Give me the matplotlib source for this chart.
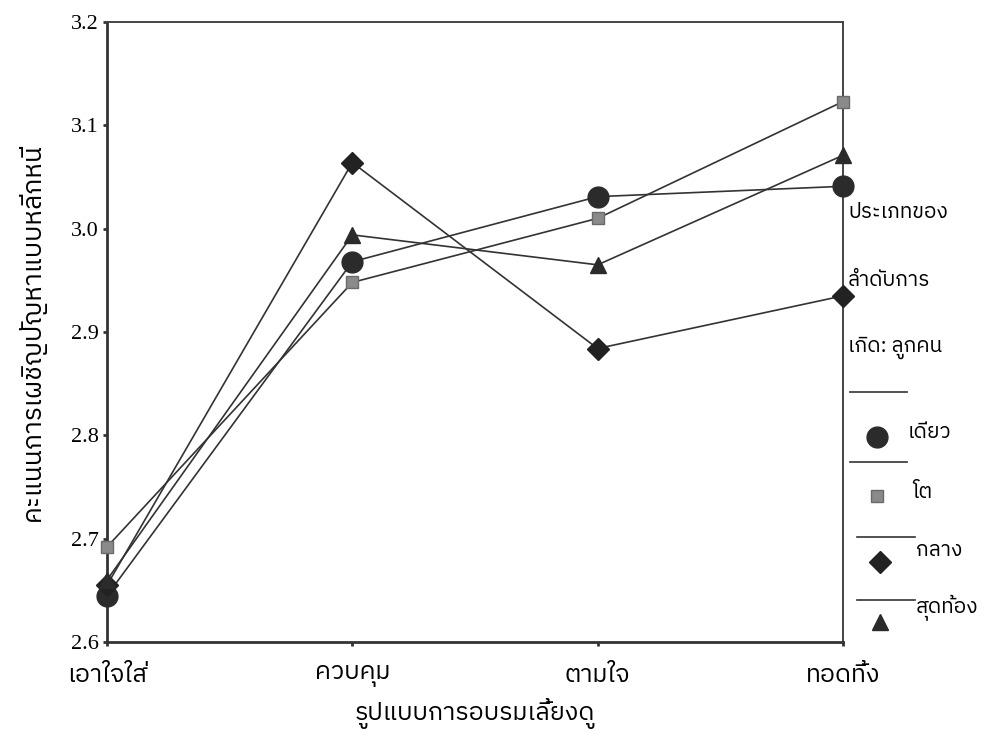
import matplotlib
matplotlib.use("Agg")
import matplotlib.pyplot as plt
from matplotlib import font_manager
from matplotlib.ft2font import FT2Font
from matplotlib.lines import Line2D

# ---------------- data ----------------
categories = ["เอาใจใส่", "ควบคุม", "ตามใจ", "ทอดทิ้ง"]
series_names = ["เดียว", "โต", "กลาง", "สุดท้อง"]
only_child = [2.645, 2.968, 3.031, 3.041]
eldest = [2.692, 2.948, 3.010, 3.123]
middle = [2.655, 3.064, 2.884, 2.935]
youngest = [2.660, 2.994, 2.965, 3.071]
y_ticks = [2.6, 2.7, 2.8, 2.9, 3.0, 3.1, 3.2]
x_title = "รูปแบบการอบรมเลี้ยงดู"
y_title = "คะแนนการเผชิญปัญหาแบบหลีกหนี"
legend_title = ["ประเภทของ", "ลำดับการ", "เกิด: ลูกคน"]

# ---------------- fonts ----------------
def thai_fonts():
    found = []
    seen = set()
    for f in font_manager.fontManager.ttflist:
        if f.name in seen:
            continue
        try:
            cm = FT2Font(f.fname).get_charmap()
        except Exception:
            continue
        if 0x0E01 in cm and 0x0E35 in cm and 0x0E49 in cm:
            found.append(f.name)
            seen.add(f.name)
    found.sort(key=lambda n: (0 if "Thai" in n else 1, n))
    return found

thai = thai_fonts()
thai_family = thai[:1] + ["DejaVu Sans"]
num_family = ["Liberation Serif", "DejaVu Serif"]
plt.rcParams["font.family"] = thai_family

# ---------------- figure ----------------
W, H = 989, 746
fig = plt.figure(figsize=(W / 100, H / 100), dpi=100)
fig.patch.set_facecolor("white")
ax = fig.add_axes([107 / W, (H - 642) / H, (843 - 107) / W, (642 - 22) / H])

x = list(range(len(categories)))
styles = [
    (only_child, dict(marker="o", ms=15, mfc="#2b2b2b", mec="#2b2b2b")),
    (eldest, dict(marker="s", ms=9, mfc="#8a8a8a", mec="#6a6a6a")),
    (middle, dict(marker="D", ms=11, mfc="#222222", mec="#222222")),
    (youngest, dict(marker="^", ms=12, mfc="#2b2b2b", mec="#2b2b2b")),
]
for vals, st in styles:
    ax.plot(x, vals, color="#333333", lw=1.2, zorder=3, clip_on=False, **st)

ax.set_xlim(0, 3)
ax.set_ylim(2.6, 3.2)
ax.set_xticks(x)
ax.set_xticklabels(categories, fontsize=18, family=thai_family)
ax.set_yticks(y_ticks)
ax.set_yticklabels([f"{v:.1f}" for v in y_ticks], fontsize=16, family=num_family)
ax.tick_params(direction="out", length=3, width=2, color="#333333")
ax.tick_params(axis="x", pad=13)
ax.tick_params(axis="y", pad=3)

for s in ["left", "bottom"]:
    ax.spines[s].set_linewidth(2.0)
    ax.spines[s].set_color("#333333")
for s in ["top", "right"]:
    ax.spines[s].set_linewidth(1.4)
    ax.spines[s].set_color("#444444")

ax.set_xlabel(x_title, fontsize=18, labelpad=8)
ax.set_ylabel(y_title, fontsize=19, labelpad=18)

# ---------------- legend (drawn in figure pixels) ----------------
def fx(px):
    return px / W

def fy(py):
    return (H - py) / H

for i, t in enumerate(legend_title):
    fig.text(fx(848), fy(212 + 68 * i), t, fontsize=15, va="center", ha="left")

seps = [(850, 907, 392), (850, 907, 462), (857, 915, 537), (857, 915, 600)]
mk_pos = [(877, 437), (877, 496), (880, 562), (880, 622)]
txt_pos = [(908, 432), (912, 492), (916, 551), (916, 607)]
for (x0, x1, yy), (mx, my), (tx, ty), name, (vals, st) in zip(seps, mk_pos, txt_pos, series_names, styles):
    fig.add_artist(Line2D([fx(x0), fx(x1)], [fy(yy), fy(yy)], color="#333333", lw=1.2))
    fig.add_artist(Line2D([fx(mx)], [fy(my)], lw=0, **st))
    fig.text(fx(tx), fy(ty), name, fontsize=15, va="center", ha="left")

fig.savefig("out.png", dpi=100, facecolor="white")
